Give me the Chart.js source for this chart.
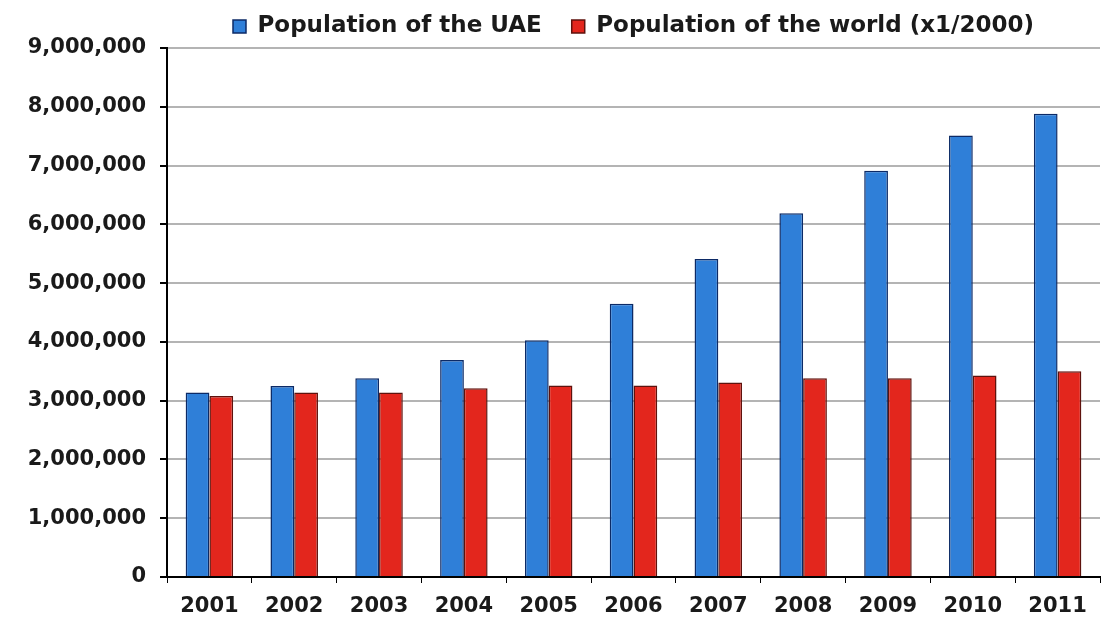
<!DOCTYPE html>
<html>
<head>
<meta charset="utf-8">
<script src="https://cdn.jsdelivr.net/npm/chart.js@4/dist/chart.umd.min.js"></script>
<style>
  html, body { margin: 0; padding: 0; background: #fff; }
  #wrap { width: 1103px; height: 623px; }
</style>
</head>
<body>
<div id="wrap"><canvas id="population_chart"></canvas></div>
<script>
'use strict';

// values
const years = ['2001', '2002', '2003', '2004', '2005', '2006', '2007', '2008', '2009', '2010', '2011'];
const uaePopulation = [3140000, 3250000, 3380000, 3690000, 4030000, 4650000, 5410000, 6190000, 6910000, 7510000, 7880000];
const worldPopulationScaled = [3080000, 3140000, 3140000, 3210000, 3260000, 3260000, 3310000, 3380000, 3380000, 3430000, 3500000];
const seriesNames = ['Population of the UAE', 'Population of the world (x1/2000)'];

const fontFamily = '"DejaVu Sans", Verdana, sans-serif';

const population_chart = new Chart('population_chart', {
    type: 'bar',
    data: {
        labels: years,
        datasets: [{
            label: seriesNames[0],
            data: uaePopulation,
            backgroundColor: '#2f7fd8',
            borderColor: '#0c2a66',
            borderWidth: 1.5,
            categoryPercentage: 0.56,
            barPercentage: 1.0
        }, {
            label: seriesNames[1],
            data: worldPopulationScaled,
            backgroundColor: '#e3261d',
            borderColor: '#5e120d',
            borderWidth: 1.5,
            categoryPercentage: 0.56,
            barPercentage: 1.0
        }]
    },
    options: {
        responsive: true,
        maintainAspectRatio: false,
        animation: false,
        // negative top so the legend sits close to the edge
        layout: { padding: { top: -15, right: 3, left: 0, bottom: 0 } },
        plugins: {
            tooltip: { enabled: false },
            legend: {
                display: true,
                position: 'top',
                fullSize: false,
                labels: {
                    boxWidth: 13,
                    boxHeight: 13,
                    padding: 30,
                    color: '#1a1a1a',
                    font: { family: fontFamily, size: 23, weight: 'bold' }
                }
            }
        },
        scales: {
            x: {
                offset: true,
                border: { display: true, color: '#000', width: 2 },
                grid: {
                    display: true,
                    offset: true,
                    drawOnChartArea: false,
                    drawTicks: true,
                    tickLength: 6,
                    tickColor: '#000'
                },
                ticks: {
                    color: '#1a1a1a',
                    padding: 11,
                    font: { family: fontFamily, size: 21, weight: 'bold' }
                },
                afterFit: function(scale) { scale.height = 46; }
            },
            y: {
                min: 0,
                max: 9000000,
                border: { display: true, color: '#000', width: 2 },
                grid: {
                    color: '#b4b4b4',
                    lineWidth: 2,
                    tickLength: 7,
                    tickColor: '#000'
                },
                ticks: {
                    stepSize: 1000000,
                    color: '#1a1a1a',
                    padding: 14,
                    font: { family: fontFamily, size: 21, weight: 'bold' },
                    callback: function(value) { return value.toLocaleString('en-US'); }
                },
                afterFit: function(scale) { scale.width = 167; }
            }
        }
    }
});
</script>
</body>
</html>
